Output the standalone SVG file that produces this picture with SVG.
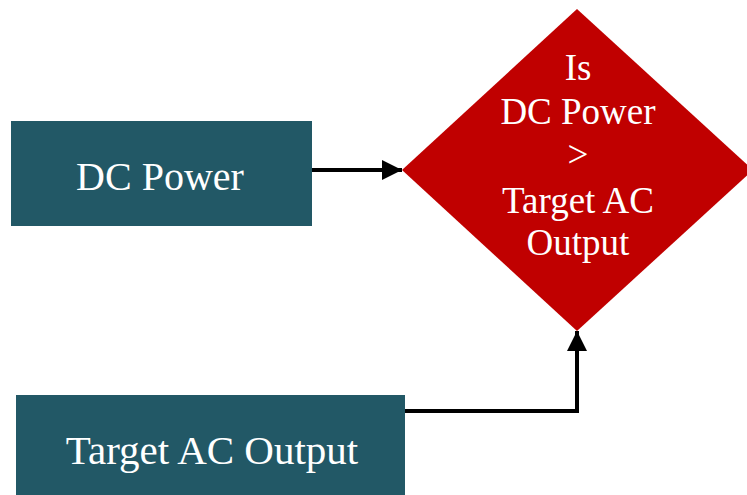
<svg xmlns="http://www.w3.org/2000/svg" width="747" height="495" viewBox="0 0 747 495">
<style>
.box{fill:#225866}
.dia{fill:#c00000}
.t{font-family:"Liberation Serif","Times New Roman",serif;fill:#ffffff;text-anchor:middle;font-size:40px}
.d{font-size:37px}
.c{fill:none;stroke:#000;stroke-width:4}
</style>
<defs>
<marker id="ah" viewBox="0 0 10 10" refX="10" refY="5" markerWidth="5" markerHeight="5" markerUnits="strokeWidth" orient="auto">
<path d="M0,0 L10,5 L0,10 Z" fill="#000"/>
</marker>
</defs>
<rect width="747" height="495" fill="#fff"/>
<g id="dc-power">
<rect class="box" x="11" y="121" width="301" height="105"/>
<text class="t" x="160" y="190">DC Power</text>
</g>
<g id="target-ac-output">
<rect class="box" x="16" y="395" width="389" height="100"/>
<text class="t" style="font-size:41px" x="212" y="464">Target AC Output</text>
</g>
<g id="decision">
<polygon class="dia" points="577,9 753,170 577,331 402,170"/>
<text class="t d" x="578" y="80">Is</text>
<text class="t d" x="578" y="124">DC Power</text>
<text class="t d" x="578" y="167">&gt;</text>
<text class="t d" x="578" y="213">Target AC</text>
<text class="t d" x="578" y="255">Output</text>
</g>
<g id="connectors">
<path class="c" d="M312,170 L402,170" marker-end="url(#ah)"/>
<path class="c" d="M405,411 L577,411 L577,331" marker-end="url(#ah)"/>
</g>
</svg>
